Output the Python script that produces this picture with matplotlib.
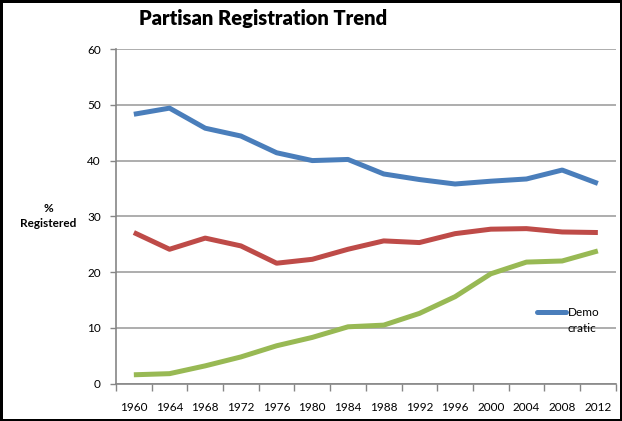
import matplotlib
matplotlib.use("Agg")
import matplotlib.pyplot as plt
from matplotlib.lines import Line2D
import numpy as np

plt.rcParams['font.family'] = ['Lato', 'DejaVu Sans']

years = ["1960", "1964", "1968", "1972", "1976", "1980", "1984",
         "1988", "1992", "1996", "2000", "2004", "2008", "2012"]
democratic = [48.3, 49.4, 45.8, 44.4, 41.4, 40.0, 40.2,
              37.6, 36.6, 35.8, 36.3, 36.7, 38.3, 35.9]
republican = [27.1, 24.1, 26.1, 24.7, 21.6, 22.3, 24.1,
              25.6, 25.3, 26.9, 27.7, 27.8, 27.2, 27.1]
other = [1.6, 1.8, 3.2, 4.8, 6.8, 8.3, 10.2,
         10.5, 12.6, 15.6, 19.7, 21.8, 22.0, 23.8]

W, H = 622, 421
fig = plt.figure(figsize=(W / 100, H / 100), dpi=100)
fig.patch.set_edgecolor("black")
fig.patch.set_linewidth(2.5)

ax = fig.add_axes([116 / W, 1 - 383.7 / H, (615.7 - 116) / W, (383.7 - 49) / H])
x = np.arange(len(years))
lw = 3.6
dem_line, = ax.plot(x, democratic, color="#4A7EBB", lw=lw,
                    solid_capstyle="butt", solid_joinstyle="round")
ax.plot(x, republican, color="#BE4B48", lw=lw,
        solid_capstyle="butt", solid_joinstyle="round")
ax.plot(x, other, color="#98B954", lw=lw,
        solid_capstyle="butt", solid_joinstyle="round")

ax.set_xlim(-0.5, len(years) - 0.5)
ax.set_ylim(0, 60)
ax.set_yticks(range(0, 61, 10))
ax.yaxis.grid(True, color="#A0A0A0", lw=1.2)
ax.set_axisbelow(True)

# category axis: ticks on boundaries, labels centred
ax.set_xticks(np.arange(-0.5, len(years), 1.0))
ax.set_xticklabels([])
ax.set_xticks(x, minor=True)
ax.set_xticklabels(years, minor=True)
ax.tick_params(axis="x", which="minor", length=0, pad=13, labelsize=8.5)
ax.tick_params(axis="x", which="major", length=5, color="#868686", width=1)
ax.tick_params(axis="y", length=4, color="#868686", width=1, pad=7, labelsize=8.5)

for s in ("top", "right"):
    ax.spines[s].set_visible(False)
for s in ("left", "bottom"):
    ax.spines[s].set_color("#868686")
    ax.spines[s].set_linewidth(1.2)

fig.text(263 / W, 1 - 18 / H, "Partisan Registration Trend", ha="center",
         va="center", fontsize=14.5, fontweight="heavy")
fig.text(48 / W, 1 - 216 / H, "%\nRegistered", ha="center", va="center",
         fontsize=8.5, fontweight="bold", linespacing=1.5)

# legend as Excel draws it: one entry, handle on the first text line
ly = 1 - 312 / H
fig.add_artist(Line2D([537 / W, 566 / W], [ly, ly], transform=fig.transFigure,
                      color=dem_line.get_color(), lw=lw, solid_capstyle="round"))
fig.text(567.5 / W, ly, "Demo", ha="left", va="center", fontsize=8.5)
fig.text(567.5 / W, 1 - 328 / H, "cratic", ha="left", va="center", fontsize=8.5)

fig.savefig("out.png", dpi=100)
